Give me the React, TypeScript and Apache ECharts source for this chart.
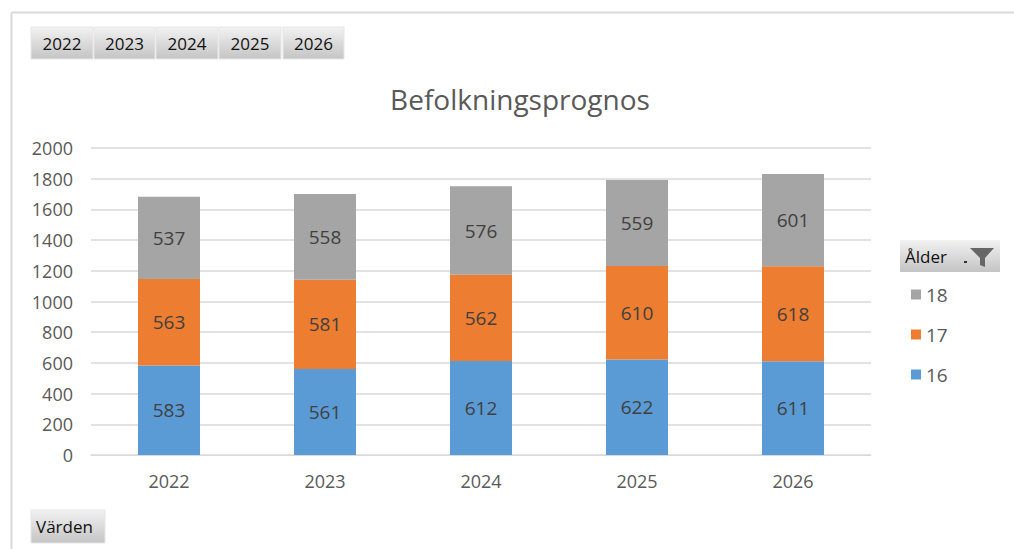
import React, { useEffect, useRef } from "react";
import * as echarts from "echarts";

const years = ["2022", "2023", "2024", "2025", "2026"];
const age16 = [583, 561, 612, 622, 611];
const age17 = [563, 581, 562, 610, 618];
const age18 = [537, 558, 576, 559, 601];
const legendOrder = ["18", "17", "16"];
const buttonLabels = ["2022", "2023", "2024", "2025", "2026"];

const FONT = "'Open Sans', 'Noto Sans', sans-serif";

export default function App() {
  const ref = useRef<HTMLDivElement>(null);
  useEffect(() => {
    if (!ref.current) return;
    const chart = echarts.init(ref.current, undefined, { renderer: "svg" });
    const btnGrad = {
      type: "linear", x: 0, y: 0, x2: 0, y2: 1,
      colorStops: [
        { offset: 0, color: "#f2f2f2" },
        { offset: 1, color: "#c4c4c4" },
      ],
    };
    const btnX = [31, 94, 156, 219, 283];
    const btnW = [62, 61, 62, 62, 61];
    const buttons: any[] = buttonLabels.map((t, i) => ({
      type: "group",
      x: btnX[i],
      y: 27,
      children: [
        { type: "rect", shape: { x: 0, y: 0, width: btnW[i], height: 32 }, style: { fill: btnGrad as any, stroke: "#e6e6e6", lineWidth: 1 } },
        { type: "text", x: btnW[i] / 2, y: 16, style: { text: t, fill: "#111", font: `17px ${FONT}`, align: "center", verticalAlign: "middle" } },
      ],
    }));
    const label = {
      show: true,
      position: "inside",
      color: "#404040",
      fontSize: 19,
      fontFamily: FONT,
    };
    chart.setOption({
      animation: false,
      backgroundColor: "#fff",
      title: {
        text: "Befolkningsprognos",
        left: 515,
        top: 80,
        textAlign: "center",
        textStyle: { color: "#595959", fontSize: 28, fontWeight: "normal", fontFamily: FONT },
      },
      grid: { left: 91, right: 1014 - 871, top: 148, bottom: 549 - 455 },
      xAxis: {
        type: "category",
        data: years,
        axisLine: { lineStyle: { color: "#d9d9d9" } },
        axisTick: { show: false },
        axisLabel: { color: "#595959", fontSize: 18, fontFamily: FONT, margin: 17 },
      },
      yAxis: {
        type: "value",
        min: 0,
        max: 2000,
        interval: 200,
        axisLine: { show: false },
        axisTick: { show: false },
        splitLine: { lineStyle: { color: "#d9d9d9", width: 1.5 } },
        axisLabel: { color: "#595959", fontSize: 18, fontFamily: FONT, margin: 18, formatter: (v: number) => String(v) },
      },
      legend: {
        data: legendOrder,
        orient: "vertical",
        left: 906,
        top: 280,
        itemGap: 21,
        itemWidth: 10,
        itemHeight: 10,
        icon: "rect",
        textStyle: { color: "#595959", fontSize: 19, fontFamily: FONT },
        selectedMode: false,
      },
      series: [
        { name: "16", type: "bar", stack: "a", data: age16, barWidth: 62, itemStyle: { color: "#5B9BD5" }, label },
        { name: "17", type: "bar", stack: "a", data: age17, barWidth: 62, itemStyle: { color: "#ED7D31" }, label },
        { name: "18", type: "bar", stack: "a", data: age18, barWidth: 62, itemStyle: { color: "#A5A5A5" }, label },
      ],
      graphic: [
        { type: "line", shape: { x1: 11.5, y1: 12.5, x2: 1014, y2: 12.5 }, style: { stroke: "#d9d9d9", lineWidth: 2 } },
        { type: "line", shape: { x1: 11.5, y1: 12.5, x2: 11.5, y2: 549 }, style: { stroke: "#d9d9d9", lineWidth: 2 } },
        ...buttons,
        {
          type: "group",
          x: 900,
          y: 240,
          children: [
            { type: "rect", shape: { x: 0, y: 0, width: 100, height: 32 }, style: { fill: btnGrad as any } },
            { type: "text", x: 5, y: 16, style: { text: "Ålder", fill: "#111", font: `17px ${FONT}`, align: "left", verticalAlign: "middle" } },
            { type: "rect", shape: { x: 64, y: 21, width: 3, height: 2 }, style: { fill: "#333" } },
            { type: "polygon", shape: { points: [[70, 8], [94, 8], [85, 18], [85, 27], [80, 25], [80, 18]] }, style: { fill: "#666" } },
          ],
        },
        {
          type: "group",
          x: 31,
          y: 510,
          children: [
            { type: "rect", shape: { x: 0, y: 0, width: 74, height: 33 }, style: { fill: btnGrad as any, stroke: "#e6e6e6", lineWidth: 1 } },
            { type: "text", x: 5, y: 16, style: { text: "Värden", fill: "#111", font: `17px ${FONT}`, align: "left", verticalAlign: "middle" } },
          ],
        },
      ],
    });
    return () => chart.dispose();
  }, []);
  return <div ref={ref} style={{ position: "fixed", left: 0, top: 0, width: 1014, height: 549 }} />;
}
